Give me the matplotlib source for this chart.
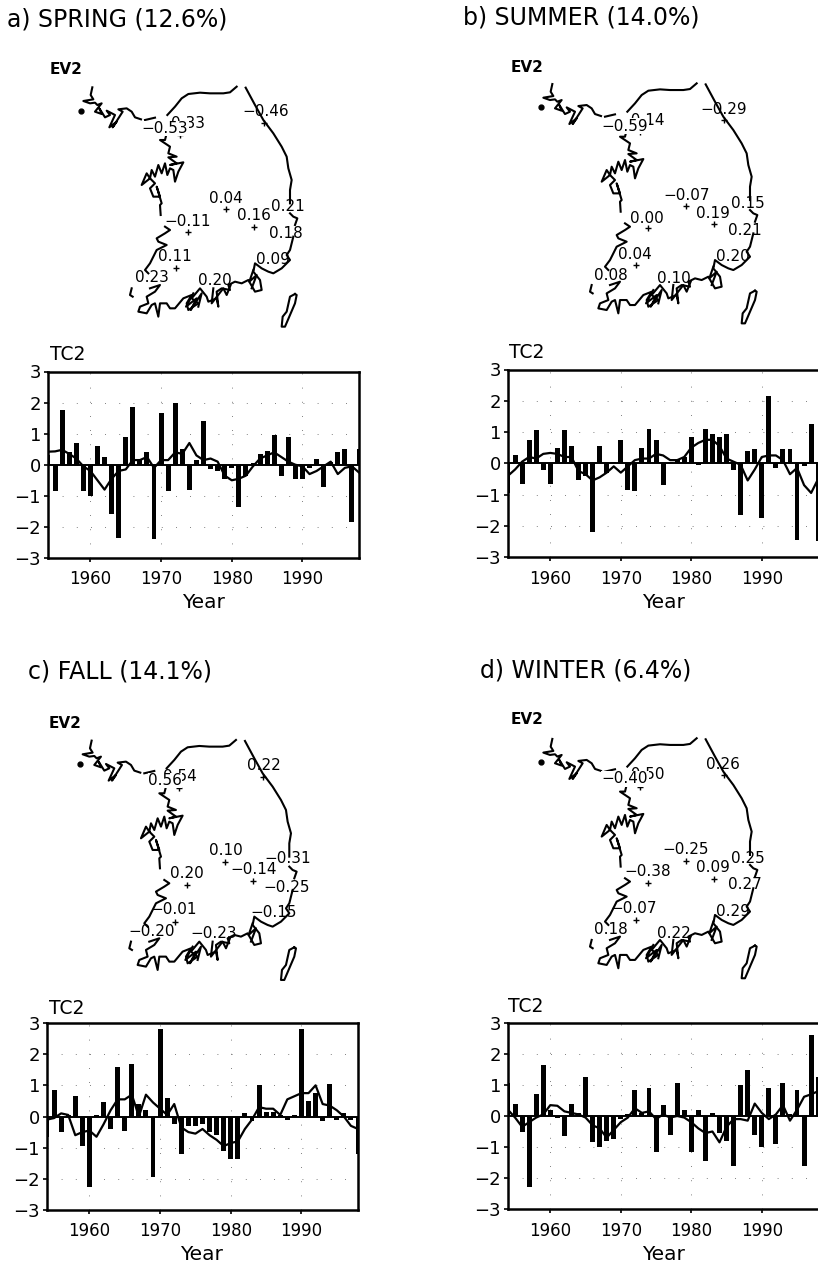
import numpy as np
import matplotlib
matplotlib.use("Agg")
import matplotlib.pyplot as plt

W, H = 818, 1267
YEARS = list(range(1954, 1999))

TITLES = ["a) SPRING (12.6%)", "b) SUMMER (14.0%)", "c) FALL (14.1%)", "d) WINTER (6.4%)"]

BARS_A = [0.3, -0.85, 1.75, 0.4, 0.7, -0.85, -1.0, 0.6, 0.25, -1.6, -2.35, 0.9, 1.85, 0.2, 0.4, -2.4, 1.65, -0.85, 2.0, 0.5, -0.8, 0.15, 1.4, -0.15, -0.2, -0.45, -0.1, -1.35, -0.35, 0.05, 0.35, 0.45, 0.95, -0.35, 0.9, -0.45, -0.45, -0.1, 0.2, -0.7, 0.1, 0.4, 0.5, -1.85, 0.5]
LINE_A = [0.42, 0.43, 0.48, 0.35, 0.2, -0.05, -0.2, -0.5, -0.8, -0.45, -0.2, -0.15, 0.15, 0.15, 0.25, -0.1, 0.15, 0.15, 0.4, 0.35, 0.7, 0.3, 0.15, 0.2, 0.1, -0.35, -0.5, -0.45, -0.35, -0.05, 0.2, 0.3, 0.4, 0.25, 0.1, 0.0, -0.05, -0.3, -0.2, -0.05, 0.1, -0.3, -0.1, -0.05, -0.25]
BARS_B = [-0.95, 0.25, -0.65, 0.75, 1.05, -0.2, -0.65, 0.5, 1.05, 0.55, -0.55, -0.4, -2.2, 0.55, -0.3, 0.05, 0.75, -0.85, -0.9, 0.5, 1.1, 0.75, -0.7, 0.05, 0.1, 0.2, 0.85, -0.05, 1.1, 0.95, 0.85, 0.95, -0.2, -1.65, 0.4, 0.45, -1.75, 2.15, -0.15, 0.45, 0.45, -2.45, -0.1, 1.25, -2.5]
LINE_B = [-0.4, -0.2, 0.05, 0.2, 0.15, 0.3, 0.33, 0.3, 0.2, 0.2, -0.25, -0.35, -0.55, -0.45, -0.3, -0.1, -0.3, -0.1, 0.1, 0.15, 0.15, 0.3, 0.25, 0.1, 0.1, 0.2, 0.5, 0.65, 0.75, 0.75, 0.55, 0.15, 0.05, -0.05, -0.55, -0.2, 0.2, 0.25, 0.25, 0.1, -0.35, -0.15, -0.7, -0.95, -0.5]
BARS_C = [-0.65, 0.85, -0.5, 0.05, 0.65, -0.95, -2.25, 0.05, 0.45, -0.4, 1.6, -0.45, 1.7, 0.4, 0.2, -1.95, 2.8, 0.6, -0.25, -1.2, -0.3, -0.3, -0.25, -0.5, -0.6, -1.1, -1.35, -1.35, 0.1, -0.15, 1.0, 0.15, 0.15, 0.05, -0.1, 0.05, 2.8, 0.5, 0.75, -0.15, 1.05, -0.1, 0.12, -0.1, -1.2]
LINE_C = [-0.1, -0.05, 0.1, 0.05, -0.6, -0.5, -0.45, -0.65, -0.25, 0.2, 0.55, 0.55, 0.7, 0.0, 0.7, 0.45, 0.25, 0.05, 0.4, -0.35, -0.5, -0.55, -0.4, -0.6, -0.75, -0.95, -0.85, -0.8, -0.4, -0.1, 0.3, 0.25, 0.25, 0.05, 0.55, 0.65, 0.75, 0.75, 1.0, 0.4, 0.35, 0.2, 0.0, -0.3, -0.4]
BARS_D = [1.05, 0.38, -0.5, -2.3, 0.7, 1.65, 0.2, -0.05, -0.65, 0.4, 0.1, 1.25, -0.85, -1.0, -0.8, -0.75, -0.1, 0.05, 0.85, 0.1, 0.9, -1.15, 0.35, -0.6, 1.05, 0.2, -1.15, 0.2, -1.45, 0.1, -0.55, -0.8, -1.6, 1.0, 1.5, -0.6, -1.0, 0.9, -0.9, 1.05, 0.05, 0.85, -1.6, 2.6, 1.25]
LINE_D = [0.2, -0.05, -0.35, -0.2, -0.05, 0.05, 0.35, 0.33, 0.15, 0.1, 0.05, -0.05, -0.3, -0.4, -0.7, -0.45, -0.2, -0.05, 0.25, 0.1, 0.15, -0.1, 0.05, -0.05, 0.0, -0.05, -0.2, -0.4, -0.55, -0.5, -0.85, -0.35, -0.1, -0.1, -0.15, 0.4, 0.1, -0.1, 0.05, 0.35, -0.15, 0.2, 0.62, 0.7, 0.8]
BARS = [BARS_A, BARS_B, BARS_C, BARS_D]
LINES = [LINE_A, LINE_B, LINE_C, LINE_D]

# Coastline segments in map grid units
COAST = [
    [(97,142),(92,165),(100,178),(70,183),(90,190),(105,188),(112,195),(125,190),(105,215),(125,222),(118,205),(135,232),(150,225),(140,212),(165,225),(148,262),(170,245),(158,262),(188,215),(175,208),(200,205),(215,215),(225,232),(243,238)],
    [(255,240),(285,233)],
    [(322,225),(345,200),(365,175),(385,162),(420,158),(450,160),(490,160),(510,157),(530,140)],
    [(557,143),(585,195),(610,240),(640,280),(665,320),(680,350),(685,385),(695,420),(690,450),(690,490)],
    [(690,520),(700,530),(712,535),(705,555)],
    [(700,590),(695,610),(690,630),(680,645),(690,660),(665,685),(640,700),(625,695),(605,685),(585,670),(580,695),(600,720),(605,750),(585,755),(565,720),(545,730),(525,725),(505,735),(510,750),(485,745),(470,755),(475,800),(470,775),(445,785),(440,770),(420,745),(395,775),(415,790),(385,810),(380,790),(395,765),(370,775),(345,805),(330,805),(320,790),(300,790),(295,830),(285,790),(275,795),(260,820),(235,815),(240,800),(265,790),(260,770),(285,755),(300,735),(270,745)],
    [(580,690),(568,725),(590,705),(575,745)],
    [(400,760),(378,800),(410,775),(392,810),(425,760),(415,800)],
    [(460,745),(455,790),(490,745),(500,765),(512,735)],
    [(265,700),(255,690),(270,670),(290,630),(320,615),(295,605),(290,595),(315,580),(330,570),(315,560)],
    [(320,280),(315,300),(300,300),(330,320),(325,340),(350,350),(325,352),(350,370),(330,375),(370,367),(355,395),(345,425),(340,390),(330,385),(322,405),(315,370),(305,400),(295,375),(285,410),(275,390),(270,415),(260,400),(245,435),(270,415),(285,430),(270,445),(280,470),(300,470),(290,440),(305,490),(300,495),(302,525)],
    [(215,745),(210,765),(218,770)],
    [(705,762),(690,770),(680,815),(668,830),(665,860),(675,860),(690,825),(705,790),(710,765),(705,762)],
]
ISLAND_DOT = (63, 212)
STATIONS = [(360,285),(612,250),(498,507),(582,562),(383,575),(347,685)]

LABEL_TEXT = [
    ["0.33","-0.53","-0.46","0.04","0.16","0.21","-0.11","0.18","0.11","0.09","0.23","0.20"],
    ["-0.14","-0.59","-0.29","-0.07","0.19","0.15","0.00","0.21","0.04","0.20","0.08","0.10"],
    ["0.54","0.56","0.22","0.10","-0.14","-0.31","0.20","-0.25","-0.01","-0.15","-0.20","-0.23"],
    ["-0.50","-0.40","0.26","-0.25","0.09","0.25","-0.38","0.27","-0.07","0.29","0.18","0.22"],
]
LABEL_POS = [
    [(384,250),(315,265),(617,215),(497,475),(582,528),(685,500),(382,543),(678,580),(345,650),(640,657),(275,713),(465,722)],
    [(365,252),(315,268),(612,217),(500,475),(580,530),(685,500),(382,545),(675,580),(345,653),(640,660),(273,715),(463,725)],
    [(362,250),(317,262),(614,218),(499,472),(584,528),(685,497),(384,540),(682,582),(344,650),(644,657),(277,715),(464,722)],
    [(365,250),(315,262),(610,218),(497,473),(578,527),(685,500),(382,540),(675,580),(342,652),(638,660),(273,715),(462,725)],
]

# Pixel layout: (left, right, top, bottom), map origin, title, headings
PANELS = [(48, 359, 371.5, 558), (508, 821, 369.5, 557), (47, 358, 1023, 1210), (508, 821, 1023, 1209)]
XMAX = [1998, 1998.4, 1998, 1998.4]
MAP_ORIGIN = [(60, 40), (520, 36.7), (59.3, 693.3), (520, 691.6)]
TITLE_XY = [(7, 20), (463, 17), (28, 672), (480, 671)]
EV_XY = [(50, 70), (511, 68), (49, 723), (511, 720)]
TC_XY = [(50, 355), (509, 353), (49, 1008), (508, 1007)]
YEAR_X = [203, 663, 202, 663]

plt.rcParams["font.family"] = ["DejaVu Sans"]
plt.rcParams["axes.unicode_minus"] = True
fig = plt.figure(figsize=(W/100, H/100), dpi=100)

def axes_px(l, r, t, b):
    return fig.add_axes([l/W, 1-b/H, (r-l)/W, (b-t)/H])

for i in range(4):
    l, r, t, b = PANELS[i]
    ax = axes_px(l, r, t, b)
    ax.set_xlim(1954, XMAX[i])
    ax.set_ylim(-3, 3)
    ax.bar(YEARS, BARS[i], width=0.7, color="black", zorder=3)
    ax.plot(YEARS, LINES[i], color="black", lw=1.6, zorder=4)
    ax.axhline(0, color="black", lw=1.4, zorder=4)
    ax.set_xticks([1960, 1970, 1980, 1990])
    ax.set_yticks([-3, -2, -1, 0, 1, 2, 3])
    ax.grid(True, color="#555555", lw=0.6, linestyle=(0, (1, 16)))
    ax.set_axisbelow(True)
    ax.tick_params(axis="x", length=3, width=1.2, labelsize=12, pad=6)
    ax.tick_params(axis="y", length=3, width=1.2, labelsize=13, pad=2)
    for s in ax.spines.values():
        s.set_linewidth(1.8)
    fig.text(YEAR_X[i]/W, 1-(b+45)/H, "Year", ha="center", va="center", fontsize=14.5)
    fig.text(TITLE_XY[i][0]/W, 1-TITLE_XY[i][1]/H, TITLES[i], ha="left", va="center", fontsize=17)
    fig.text(EV_XY[i][0]/W, 1-EV_XY[i][1]/H, "EV2", ha="left", va="center", fontsize=11, fontweight="bold")
    fig.text(TC_XY[i][0]/W, 1-TC_XY[i][1]/H, "TC2", ha="left", va="center", fontsize=13.5)

    ox, oy = MAP_ORIGIN[i]
    m = axes_px(ox, ox+260, oy, oy+300)
    m.set_xlim(0, 780)
    m.set_ylim(900, 0)
    m.axis("off")
    m.patch.set_alpha(0)
    for seg in COAST:
        xs, ys = zip(*seg)
        m.plot(xs, ys, color="black", lw=1.5, solid_joinstyle="round", zorder=2)
    m.plot([ISLAND_DOT[0]], [ISLAND_DOT[1]], "o", color="black", ms=3.5, zorder=2)
    sx, sy = zip(*STATIONS)
    m.plot(sx, sy, "+", color="black", ms=4.5, mew=1.0, zorder=3)
    for j, (txt, (x, y)) in enumerate(zip(LABEL_TEXT[i], LABEL_POS[i])):
        front = j == 1
        m.text(x, y, txt.replace("-", "\u2212"), ha="center", va="center", fontsize=11, color="black", zorder=4 + j,
               bbox=dict(facecolor="white", edgecolor="none", pad=0.2, alpha=1.0 if front else 0.0))

fig.savefig("out.png", dpi=100)
